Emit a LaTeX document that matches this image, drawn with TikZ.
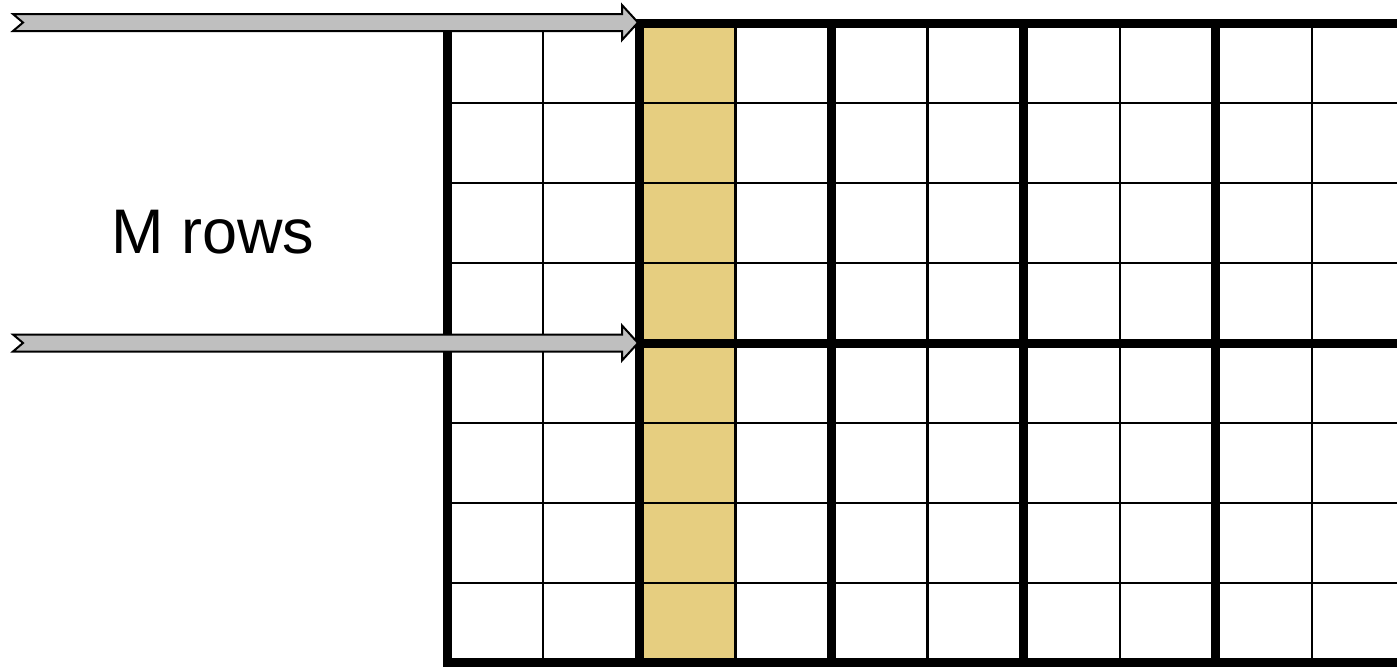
\documentclass[tikz,border=0pt]{standalone}
\usepackage{fontspec}
\setmainfont{Liberation Sans}
\usepackage{xcolor}
\definecolor{colfill}{RGB}{230,206,128}
\tikzset{
  thinline/.style={line width=2.4pt},
  thickline/.style={line width=9pt},
  rowarrow/.style={fill=black!25, draw=black, line width=2pt, line join=miter},
}
\begin{document}
\begin{tikzpicture}[x=1pt,y=-1pt]
  \useasboundingbox (0,0) rectangle (1397,667);
  \clip (0,0) rectangle (1397,667);

  \fill[colfill] (638,23) rectangle (735.3,663);

  \foreach \c in {1,3,5,7,9}
    \draw[thinline] ({447+96.1*\c},23) -- ({447+96.1*\c},663);
  \foreach \r in {1,2,3,5,6,7}
    \draw[thinline] (447,{23+80*\r}) -- (1400,{23+80*\r});

  \foreach \c in {0,2,4,6,8}
    \draw[thickline] ({447+96.1*\c},23) -- ({447+96.1*\c},667);
  \foreach \r in {0,4}
    \draw[thickline] (447,{23+80*\r}) -- (1400,{23+80*\r});
  \draw[thickline] (443,662) -- (1400,662);

  \coordinate (tipA) at (638,22.5);
  \coordinate (tipB) at (638,343);
  \foreach \t in {tipA,tipB}
    \draw[rowarrow] ([shift={(-625,-8.5)}]\t) -- ([shift={(-16,-8.5)}]\t)
      -- ([shift={(-16,-17.5)}]\t) -- (\t) -- ([shift={(-16,17.5)}]\t)
      -- ([shift={(-16,8.5)}]\t) -- ([shift={(-625,8.5)}]\t)
      -- ([shift={(-615,0)}]\t) -- cycle;

  \node (mrows) at (213,232.5) {\fontsize{63}{76}\selectfont M rows};
\end{tikzpicture}
\end{document}
